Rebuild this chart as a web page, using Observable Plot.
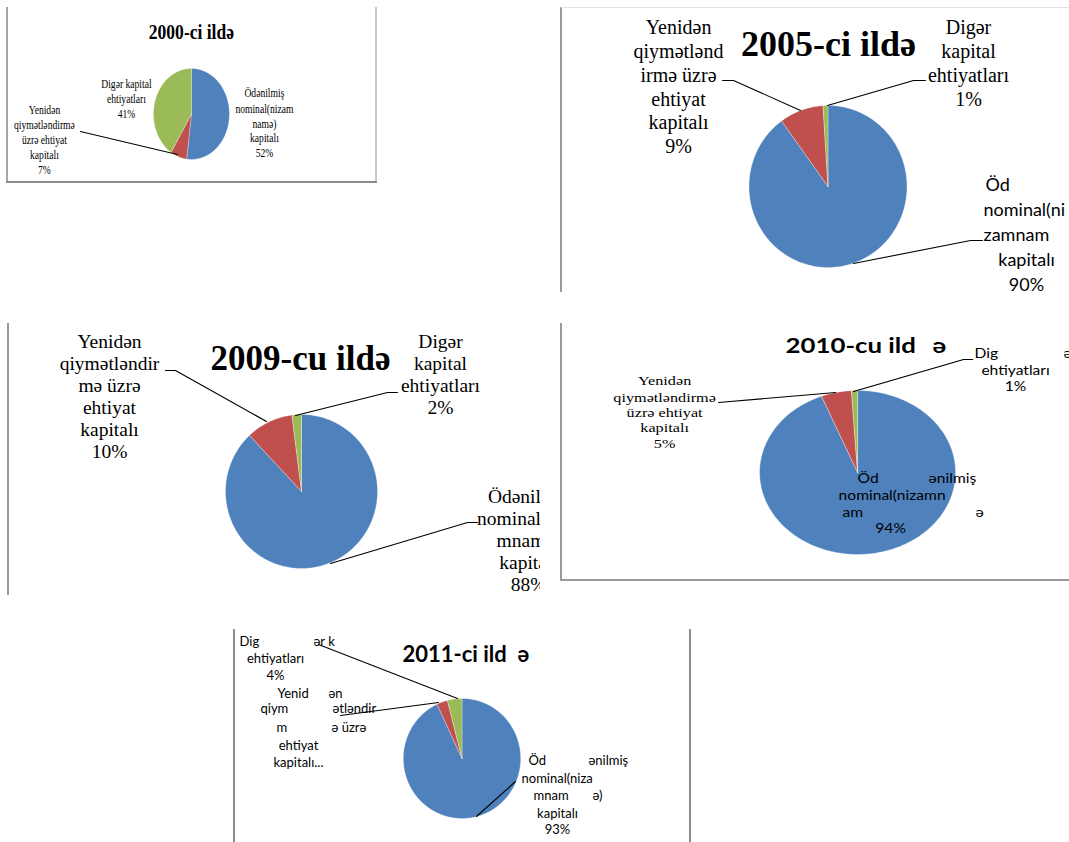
<!DOCTYPE html>
<html><head><meta charset="utf-8">
<script src="https://cdn.jsdelivr.net/npm/d3@7"></script>
<script src="https://cdn.jsdelivr.net/npm/@observablehq/plot@0.6"></script>
<style>
html,body{margin:0;padding:0;background:#fff;overflow:hidden;width:1069px;height:842px;position:relative}
.chart{position:absolute;overflow:hidden}
.chart svg{display:block;transform-origin:0 0;max-width:none !important;background:transparent}
.rule{position:absolute}
</style></head><body>
<script>
// ---------------- DATA ----------------
const categories = [
  "Ödənilmiş nominal(nizamnamə) kapitalı",
  "Yenidən qiymətləndirmə üzrə ehtiyat kapitalı",
  "Digər kapital ehtiyatları"
];
const years = ["2000", "2005", "2009", "2010", "2011"];
const share2000 = [52, 7, 41];
const share2005 = [90, 9, 1];
const share2009 = [88, 10, 2];
const share2010 = [94, 5, 1];
const share2011 = [93, 3, 4];
const sliceColors = ["#4F81BD", "#C0504D", "#9BBB59"];

// ---------------- STYLE / LAYOUT ----------------
const SERIF = "'Liberation Serif','Times New Roman','DejaVu Serif',serif";
const SANS = "Lato,'Open Sans','DejaVu Sans',sans-serif";
const p = v => v + "%";

function slicePolys(values, pie) {
  const arcs = d3.pie().sort(null).value(d => d)(values);
  return arcs.map((a, i) => {
    const n = Math.max(3, Math.ceil((a.endAngle - a.startAngle) / (Math.PI / 180)));
    const pts = [{x: pie.cx, y: pie.cy}];
    for (let j = 0; j <= n; j++) {
      const t = a.startAngle + (a.endAngle - a.startAngle) * j / n;
      pts.push({x: pie.cx + pie.rx * Math.sin(t), y: pie.cy - pie.ry * Math.cos(t)});
    }
    pts.push({x: pie.cx, y: pie.cy});
    return {i, pts};
  });
}

function drawChart(cfg) {
  const {box, k = 1, pie, values, blocks, leaders} = cfg;
  const marks = [];
  for (const s of slicePolys(values, pie)) {
    marks.push(Plot.line(s.pts, {x: "x", y: "y", fill: sliceColors[s.i], stroke: "#ffffff", strokeOpacity: 0.5, strokeWidth: 0.6, curve: "linear"}));
  }
  for (const l of leaders) {
    marks.push(Plot.line(l.map(([x, y]) => ({x, y})), {x: "x", y: "y", stroke: "#000", strokeWidth: 1.1, curve: "linear"}));
  }
  for (const b of blocks) {
    const data = b.lines.map(([t, y, x]) => ({t, y, x: x ?? b.x}));
    marks.push(Plot.text(data, {
      x: "x", y: "y", text: "t", textAnchor: b.anchor || "middle", lineAnchor: "bottom",
      fontFamily: b.font, fontSize: b.size, fontWeight: b.weight || "normal", fill: "#000"
    }));
  }
  const fig = Plot.plot({
    width: box.w / k, height: box.h, margin: 0,
    x: {domain: [box.x, box.x + box.w], range: [0, box.w / k], axis: null},
    y: {domain: [box.y, box.y + box.h], range: [0, box.h], axis: null},
    style: {background: "transparent", maxWidth: "none", overflow: "visible"},
    marks
  });
  if (k !== 1) fig.style.transform = `scaleX(${k})`;
  const wrap = document.createElement("div");
  wrap.className = "chart";
  Object.assign(wrap.style, {left: box.x + "px", top: box.y + "px", width: box.w + "px", height: box.h + "px"});
  wrap.appendChild(fig);
  document.body.appendChild(wrap);
}

function rule(x, y, w, h, c) {
  const d = document.createElement("div");
  d.className = "rule";
  Object.assign(d.style, {left: x + "px", top: y + "px", width: w + "px", height: h + "px", background: c});
  document.body.appendChild(d);
}

// ---- 2000 ----
drawChart({
  box: {x: 7, y: 7, w: 370, h: 176}, k: 0.835,
  pie: {cx: 191, cy: 113.5, rx: 38, ry: 45.5}, values: share2000,
  leaders: [[[80, 131], [177, 154]]],
  blocks: [
    {font: SERIF, size: 21, weight: "bold", x: 191, lines: [[years[0] + "-ci ildə", 39]]},
    {font: SERIF, size: 11.5, x: 264, lines: [["Ödənilmiş", 97], ["nominal(nizam", 113], ["namə)", 128], ["kapitalı", 142], [p(share2000[0]), 157]]},
    {font: SERIF, size: 11.5, x: 126, lines: [["Digər kapital", 88], ["ehtiyatları", 103], [p(share2000[2]), 118]]},
    {font: SERIF, size: 11.5, x: 44, lines: [["Yenidən", 114], ["qiymətləndirmə", 129], ["üzrə ehtiyat", 144], ["kapitalı", 159], [p(share2000[1]), 174]]}
  ]
});

// ---- 2005 ----
drawChart({
  box: {x: 561, y: 7, w: 508, h: 290},
  pie: {cx: 827.5, cy: 186, rx: 79, ry: 81}, values: share2005,
  leaders: [
    [[722, 80], [733, 80], [800, 110]],
    [[925, 80], [913, 80], [827, 105]],
    [[982, 240], [970, 240], [853, 263]]
  ],
  blocks: [
    {font: SERIF, size: 36, weight: "bold", x: 828, lines: [[years[1] + "-ci ildə", 55]]},
    {font: SERIF, size: 20, x: 678, lines: [["Yenidən", 33], ["qiymətlənd", 57], ["irmə üzrə", 81], ["ehtiyat", 105], ["kapitalı", 128], [p(share2005[1]), 152]]},
    {font: SERIF, size: 20, x: 968, lines: [["Digər", 33], ["kapital", 57], ["ehtiyatları", 81], [p(share2005[2]), 105]]},
    {font: SANS, size: 18, x: 985, anchor: "start", lines: [["Öd", 190], ["nominal(ni", 215, 983], ["zamnam", 240, 983]]},
    {font: SANS, size: 18, x: 1026, lines: [["kapitalı", 265], [p(share2005[0]), 290]]}
  ]
});

// ---- 2009 ----
drawChart({
  box: {x: 8, y: 323, w: 532, h: 275},
  pie: {cx: 301, cy: 491, rx: 76, ry: 77}, values: share2009,
  leaders: [
    [[165, 370], [175, 370], [266, 421]],
    [[397, 392], [387, 392], [295, 415]],
    [[477, 522], [467, 522], [330, 563]]
  ],
  blocks: [
    {font: SERIF, size: 35, weight: "bold", x: 300, lines: [[years[2] + "-cu ildə", 369]]},
    {font: SERIF, size: 19.5, x: 109, lines: [["Yenidən", 347], ["qiymətləndir", 369], ["mə üzrə", 391], ["ehtiyat", 413], ["kapitalı", 435], [p(share2009[1]), 457]]},
    {font: SERIF, size: 19.5, x: 440, lines: [["Digər", 347], ["kapital", 369], ["ehtiyatları", 391], [p(share2009[2]), 413]]},
    {font: SERIF, size: 19.5, x: 528, lines: [["Ödənilmiş", 502], ["nominal(niza", 524], ["mnamə)", 546], ["kapitalı", 568], [p(share2009[0]), 590]]}
  ]
});

// ---- 2010 ----
drawChart({
  box: {x: 561, y: 323, w: 508, h: 258}, k: 1.2,
  pie: {cx: 857, cy: 472, rx: 98, ry: 82}, values: share2010,
  leaders: [
    [[972, 359], [963, 359], [853, 391]],
    [[718, 402], [800, 395], [835, 392]]
  ],
  blocks: [
    {font: SANS, size: 21.5, weight: "bold", x: 785, anchor: "start", lines: [[years[3] + "-cu ild", 353], ["ə", 353, 932]]},
    {font: SANS, size: 13, x: 974, anchor: "start", lines: [["Dig", 358], ["ə", 358, 1063]]},
    {font: SANS, size: 13, x: 1015, lines: [["ehtiyatları", 375], [p(share2010[2]), 391]]},
    {font: SERIF, size: 13.5, x: 664, lines: [["Yenidən", 385], ["qiymətləndirmə", 402], ["üzrə ehtiyat", 417], ["kapitalı", 432], [p(share2010[1]), 448]]},
    {font: SANS, size: 13, x: 857, anchor: "start", lines: [["Öd", 483], ["ənilmiş", 483, 928], ["nominal(nizamn", 500, 838], ["am", 517, 842], ["ə", 517, 975]]},
    {font: SANS, size: 13, x: 890, lines: [[p(share2010[0]), 533]]}
  ]
});

// ---- 2011 ----
drawChart({
  box: {x: 234, y: 629, w: 456, h: 213},
  pie: {cx: 461.5, cy: 758, rx: 58.7, ry: 60}, values: share2011,
  leaders: [
    [[318, 644], [457, 698]],
    [[340, 715], [438, 702]],
    [[515, 781], [476, 816]]
  ],
  blocks: [
    {font: SANS, size: 22, weight: "bold", x: 402, anchor: "start", lines: [[years[4] + "-ci ild", 661], ["ə", 661, 517]]},
    {font: SANS, size: 13, x: 239, anchor: "start", lines: [["Dig", 645], ["ər k", 645, 313], ["Yenid", 697, 277], ["ən", 697, 328], ["qiym", 712, 260], ["ətləndir", 712, 332], ["m", 731, 276], ["ə üzrə", 731, 331]]},
    {font: SANS, size: 13, x: 275, lines: [["ehtiyatları", 662], [p(share2011[2]), 679]]},
    {font: SANS, size: 13, x: 298, lines: [["ehtiyat", 749], ["kapitalı...", 766]]},
    {font: SANS, size: 13, x: 528, anchor: "start", lines: [["Öd", 764], ["ənilmiş", 764, 588], ["nominal(niza", 782, 521], ["mnam", 799, 533], ["ə)", 799, 592]]},
    {font: SANS, size: 13, x: 557, lines: [["kapitalı", 817], [p(share2011[0]), 833]]}
  ]
});

// ---- frames ----
rule(6, 7, 2, 176, "#a6a6a6");
rule(375, 7, 2, 176, "#c8c8c8");
rule(6, 181, 371, 2, "#8c8c8c");
rule(560, 7, 2, 285, "#9a9a9a");
rule(561, 7, 508, 1, "#e2e2e2");
rule(7, 323, 2, 272, "#9a9a9a");
rule(560, 323, 2, 258, "#9a9a9a");
rule(561, 579, 508, 2, "#9a9a9a");
rule(233, 629, 2, 213, "#8c8c8c");
rule(689, 629, 2, 213, "#8c8c8c");
</script>
</body></html>
